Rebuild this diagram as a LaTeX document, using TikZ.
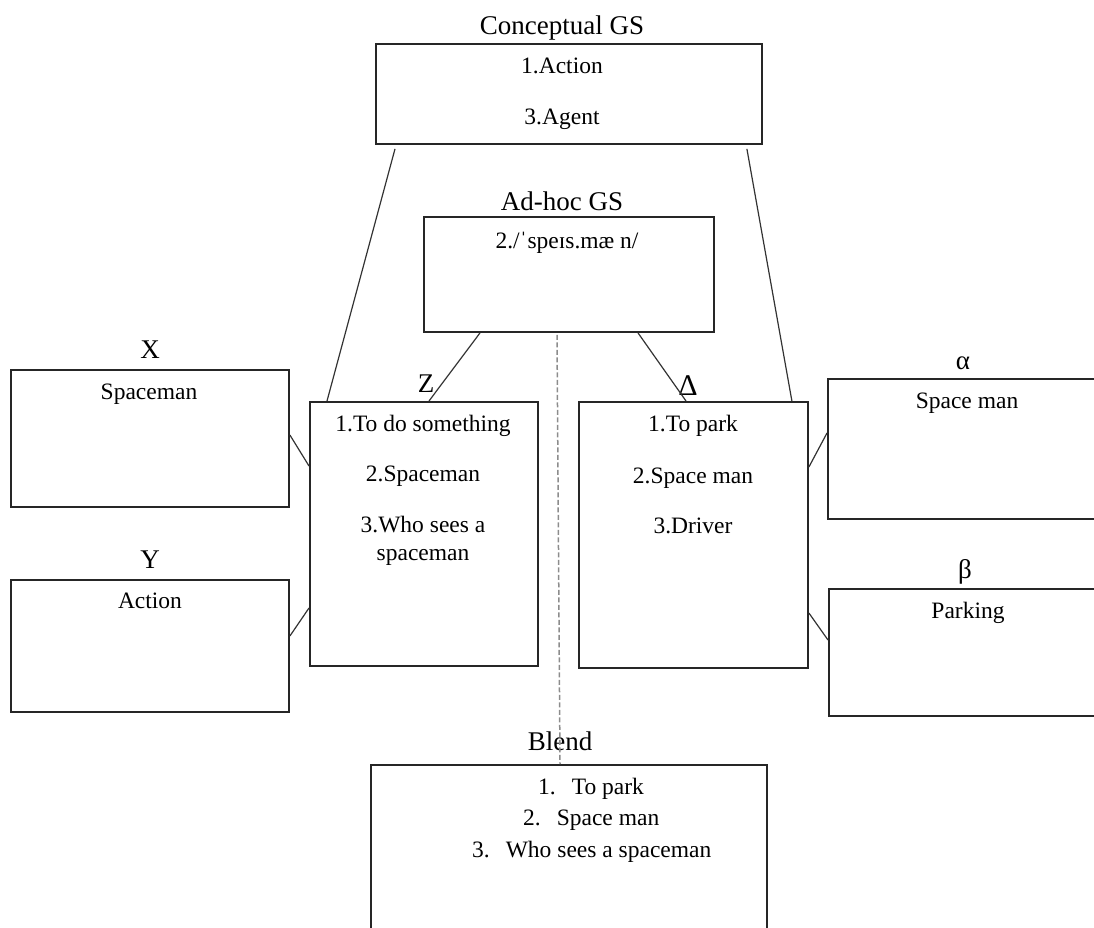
\documentclass[tikz,border=0pt]{standalone}
\usepackage{fontspec}
\setmainfont{Liberation Serif}
\usetikzlibrary{calc}
\begin{document}
\begin{tikzpicture}[x=1pt,y=-1pt,
  box/.style={draw=black!85, line width=1.9pt, rectangle, inner sep=0pt, anchor=north west},
  head/.style={font=\fontsize{27}{32}\selectfont, anchor=base, inner sep=0pt},
  body/.style={font=\fontsize{23.5}{28}\selectfont, anchor=base, inner sep=0pt},
  link/.style={draw=black!80, line width=1.2pt},
  axis/.style={draw=black!45, line width=1.5pt, dashed, dash pattern=on 5pt off 2.5pt}]
\useasboundingbox (0,0) rectangle (1094,928);
\clip (0,0) rectangle (1094,928);

% frames
\node[box, minimum width=386pt, minimum height=100pt] (cg) at (375,43) {};
\node[box, minimum width=290pt, minimum height=115pt] (ah) at (423,216) {};
\node[box, minimum width=278pt, minimum height=137pt] (x) at (10,369) {};
\node[box, minimum width=278pt, minimum height=132pt] (y) at (10,579) {};
\node[box, minimum width=228pt, minimum height=264pt] (z) at (309,401) {};
\node[box, minimum width=229pt, minimum height=266pt] (d) at (578,401) {};
\node[box, minimum width=300pt, minimum height=140pt] (al) at (827,378) {};
\node[box, minimum width=300pt, minimum height=127pt] (be) at (828,588) {};
\node[box, minimum width=396pt, minimum height=220pt] (bl) at (370,764) {};

% headings
\node[head] (tcg) at (562,35) {Conceptual GS};
\node[head] (tah) at (562,210) {Ad-hoc GS};
\node[head] (tx) at (150,358) {X};
\node[head] (ty) at (150,568) {Y};
\node[head] (tz) at (426,392) {Z};
\node[head, font=\fontsize{30}{34}\selectfont] (td) at (688,395) {Δ};
\node[head] (tal) at (963,369) {α};
\node[head] (tbe) at (965,578) {β};
\node[head] (tbl) at (560,750) {Blend};

% contents
\node[body] (cg1) at (562,74) {1.Action};
\node[body] (cg2) at (562,125) {3.Agent};
\node[body] (ah1) at (567,248) {2./ˈspeɪs.mæ n/};
\node[body] (x1) at (149,399) {Spaceman};
\node[body] (y1) at (150,608) {Action};
\node[body] (z1) at (423,431) {1.To do something};
\node[body] (z2) at (423,481) {2.Spaceman};
\node[body] (z3) at (423,532) {3.Who sees a};
\node[body] (z4) at (423,560) {spaceman};
\node[body] (d1) at (693,431) {1.To park};
\node[body] (d2) at (693,483) {2.Space man};
\node[body] (d3) at (693,533) {3.Driver};
\node[body] (al1) at (967,408) {Space man};
\node[body] (be1) at (968,618) {Parking};
\node[body, anchor=base west] (bl1) at (538,794) {1.\hspace{16pt}To park};
\node[body, anchor=base west] (bl2) at (523,825) {2.\hspace{16pt}Space man};
\node[body, anchor=base west] (bl3) at (472,857) {3.\hspace{16pt}Who sees a spaceman};

% links between the spaces
\draw[link] ([xshift=20pt,yshift=-4pt]cg.south west) -- ([xshift=18pt]z.north west);
\draw[link] ([xshift=-16pt,yshift=-4pt]cg.south east) -- ([xshift=-17pt]d.north east);
\draw[link] ([xshift=57pt]ah.south west) -- ([xshift=120pt]z.north west);
\draw[link] ([xshift=215pt]ah.south west) -- ([xshift=108pt]d.north west);
\draw[link] ([yshift=-66pt]x.north east) -- ([yshift=-65pt]z.north west);
\draw[link] ([yshift=-57pt]y.north east) -- ([yshift=-207pt]z.north west);
\draw[link] ([yshift=-66pt]d.north east) -- ([yshift=-55pt]al.north west);
\draw[link] ([yshift=-212pt]d.north east) -- ([yshift=-52pt]be.north west);
\draw[axis] ([xshift=134pt,yshift=-2pt]ah.south west) -- ([xshift=190pt]bl.north west);
\end{tikzpicture}
\end{document}
